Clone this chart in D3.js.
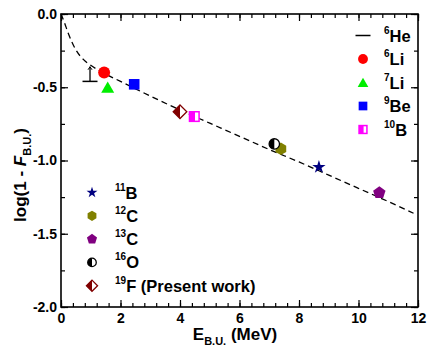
<!DOCTYPE html>
<html>
<head>
<meta charset="utf-8">
<script src="https://cdn.jsdelivr.net/npm/d3@7"></script>
<style>
  body { margin: 0; background: #fff; }
  svg { display: block; font-family: "Liberation Sans", Arial, sans-serif; font-weight: bold; }
</style>
</head>
<body>
<div id="chart"></div>
<script>
// data
const massNumbers = ["6", "6", "7", "9", "10", "11", "12", "13", "16", "19"];
const elements = ["He", "Li", "Li", "Be", "B", "B", "C", "C", "O", "F (Present work)"];
const energy = [0.975, 1.45, 1.57, 2.46, 4.48, 8.67, 7.39, 10.7, 7.17, 4.0];
const logValue = [-0.46, -0.40, -0.50, -0.48, -0.70, -1.045, -0.92, -1.22, -0.887, -0.667];
const markerKind = ["dash", "circle", "triangle", "square", "halfSquare", "star", "hexagon", "pentagon", "halfCircle", "halfDiamond"];
const markerColor = ["#000000", "#ff0000", "#00ee00", "#0000ff", "#ff00ff", "#000080", "#808000", "#800080", "#000000", "#800000"];
const heErrorTop = -0.36;

// dashed systematics curve
const fitEnergy = [0.0, 0.1, 0.25, 0.5, 0.75, 1.0, 1.5, 2.0, 3.0, 4.0, 5.0, 6.0, 7.0, 8.0, 9.0, 10.0, 11.0, 11.85];
const fitLog = [0.0, -0.05, -0.135, -0.245, -0.31, -0.35, -0.41, -0.46, -0.56, -0.655, -0.745, -0.835, -0.925, -1.01, -1.10, -1.19, -1.28, -1.36];

const xTicks = [0, 2, 4, 6, 8, 10, 12];
const yTicks = [0, -0.5, -1.0, -1.5, -2.0];
const xMinor = d3.range(0, 12.001, 0.4);
const yMinor = d3.range(-2, 0.001, 0.25);

const legendTop = [0, 1, 2, 3, 4];
const legendBottom = [5, 6, 7, 8, 9];

const width = 435, height = 358;
const margin = { top: 14, right: 17, bottom: 51, left: 61 };

const svg = d3.select("#chart").append("svg")
  .attr("width", width)
  .attr("height", height);

const x = d3.scaleLinear().domain([0, 12]).range([margin.left, width - margin.right]);
const y = d3.scaleLinear().domain([-2, 0]).range([height - margin.bottom, margin.top]);

// axes, ticks pointing inward on all four sides
function styleAxis(g) {
  g.select(".domain").remove();
  g.selectAll("line").attr("stroke", "#000").attr("stroke-width", 1.2);
  g.selectAll("text").attr("fill", "#000").style("font-size", "14px").style("font-weight", "bold");
}

svg.append("g")
  .attr("transform", `translate(0,${y(-2)})`)
  .call(d3.axisBottom(x).tickValues(xMinor).tickSize(-4).tickFormat(""))
  .call(styleAxis);
svg.append("g")
  .attr("transform", `translate(0,${y(-2)})`)
  .call(d3.axisBottom(x).tickValues(xTicks).tickSize(-7).tickPadding(6).tickFormat(d3.format("d")))
  .call(styleAxis);
svg.append("g")
  .attr("transform", `translate(0,${y(0)})`)
  .call(d3.axisTop(x).tickValues(xMinor).tickSize(-4).tickFormat(""))
  .call(styleAxis);
svg.append("g")
  .attr("transform", `translate(0,${y(0)})`)
  .call(d3.axisTop(x).tickValues(xTicks).tickSize(-7).tickFormat(""))
  .call(styleAxis);

svg.append("g")
  .attr("transform", `translate(${x(0)},0)`)
  .call(d3.axisLeft(y).tickValues(yMinor).tickSize(-4).tickFormat(""))
  .call(styleAxis);
svg.append("g")
  .attr("transform", `translate(${x(0)},0)`)
  .call(d3.axisLeft(y).tickValues(yTicks).tickSize(-7).tickPadding(4).tickFormat((d) => d.toFixed(1)))
  .call(styleAxis);
svg.append("g")
  .attr("transform", `translate(${x(12)},0)`)
  .call(d3.axisRight(y).tickValues(yMinor).tickSize(-4).tickFormat(""))
  .call(styleAxis);
svg.append("g")
  .attr("transform", `translate(${x(12)},0)`)
  .call(d3.axisRight(y).tickValues(yTicks).tickSize(-7).tickFormat(""))
  .call(styleAxis);

// frame
svg.append("rect")
  .attr("x", x(0))
  .attr("y", y(0))
  .attr("width", x(12) - x(0))
  .attr("height", y(-2) - y(0))
  .attr("fill", "none")
  .attr("stroke", "#000")
  .attr("stroke-width", 1.6);

// dashed curve
const fitData = fitEnergy.map((e, i) => [e, fitLog[i]]);
svg.append("path")
  .datum(fitData)
  .attr("fill", "none")
  .attr("stroke", "#000")
  .attr("stroke-width", 1.3)
  .attr("stroke-dasharray", "6,4")
  .attr("d", d3.line().x((d) => x(d[0])).y((d) => y(d[1])).curve(d3.curveMonotoneX));

// markers
function drawMarker(g, kind, color, s) {
  if (kind === "dash") {
    g.append("line").attr("x1", -7.5).attr("x2", 7.5)
      .attr("stroke", color).attr("stroke-width", 1.5);
  } else if (kind === "circle") {
    g.append("circle").attr("r", 6 * s).attr("fill", color);
  } else if (kind === "triangle") {
    const a = 6.5 * s;
    g.append("polygon").attr("points", `${-a},${a * 0.85} ${a},${a * 0.85} 0,${-a * 0.9}`).attr("fill", color);
  } else if (kind === "square") {
    const a = 5.3 * s;
    g.append("rect").attr("x", -a).attr("y", -a).attr("width", 2 * a).attr("height", 2 * a).attr("fill", color);
  } else if (kind === "halfSquare") {
    const a = 4.8 * s;
    g.append("rect").attr("x", -a).attr("y", -a).attr("width", 2 * a).attr("height", 2 * a)
      .attr("fill", "#fff").attr("stroke", color).attr("stroke-width", 1.5);
    g.append("rect").attr("x", -a).attr("y", -a).attr("width", a * 1.15).attr("height", 2 * a).attr("fill", color);
  } else if (kind === "star") {
    g.append("path").attr("d", d3.symbol(d3.symbolStar, 55 * s * s)()).attr("fill", color);
  } else if (kind === "hexagon") {
    const r = 6.2 * s;
    const pts = d3.range(6).map((k) => [r * Math.sin(k * Math.PI / 3), r * Math.cos(k * Math.PI / 3)]);
    g.append("polygon").attr("points", pts.map((p) => p.join(",")).join(" ")).attr("fill", color);
  } else if (kind === "pentagon") {
    const r = 6.5 * s;
    const pts = d3.range(5).map((k) => [r * Math.sin(k * 2 * Math.PI / 5), -r * Math.cos(k * 2 * Math.PI / 5)]);
    g.append("polygon").attr("points", pts.map((p) => p.join(",")).join(" ")).attr("fill", color);
  } else if (kind === "halfCircle") {
    const r = 5.2 * s;
    g.append("circle").attr("r", r).attr("fill", "#fff").attr("stroke", color).attr("stroke-width", 1.3);
    g.append("path").attr("d", `M0,${-r} A${r},${r} 0 0 0 0,${r} Z`).attr("fill", color);
  } else if (kind === "halfDiamond") {
    const r = 6.8 * s;
    g.append("polygon").attr("points", `0,${-r} ${r},0 0,${r} ${-r},0`)
      .attr("fill", "#fff").attr("stroke", color).attr("stroke-width", 1.3);
    g.append("polygon").attr("points", `0,${-r} 0,${r} ${-r},0`).attr("fill", color);
  }
}

// 6He error bar (upward)
const heX = x(energy[0]);
svg.append("line")
  .attr("x1", heX).attr("x2", heX)
  .attr("y1", y(logValue[0])).attr("y2", y(heErrorTop))
  .attr("stroke", "#000").attr("stroke-width", 1.3);
svg.append("path")
  .attr("d", `M${heX - 2},${y(heErrorTop) + 3} L${heX},${y(heErrorTop)} L${heX + 2},${y(heErrorTop) + 3}`)
  .attr("fill", "none").attr("stroke", "#000").attr("stroke-width", 1);

energy.forEach((e, i) => {
  const g = svg.append("g").attr("transform", `translate(${x(e)},${y(logValue[i])})`);
  drawMarker(g, markerKind[i], markerColor[i], 1);
});

// legends
function drawLegend(indices, symX, textX, y0, step) {
  indices.forEach((idx, k) => {
    const cy = y0 + k * step;
    const g = svg.append("g").attr("transform", `translate(${symX},${cy})`);
    drawMarker(g, markerKind[idx], markerColor[idx], 0.82);
    const t = svg.append("text")
      .attr("x", textX)
      .attr("y", cy + 6)
      .attr("fill", "#000")
      .style("font-size", "16.5px");
    t.append("tspan").text(massNumbers[idx]).style("font-size", "10px").attr("dy", -8);
    t.append("tspan").text(elements[idx]).attr("dy", 8);
  });
}
drawLegend(legendTop, 363, 384, 35.5, 23.5);
drawLegend(legendBottom, 92, 115, 192.5, 23.3);

// axis titles
const yTitle = svg.append("text")
  .attr("transform", `translate(26,175) rotate(-90)`)
  .attr("text-anchor", "middle")
  .attr("fill", "#000")
  .style("font-size", "17px");
yTitle.append("tspan").text("log(1 - ");
yTitle.append("tspan").text("F").style("font-style", "italic");
yTitle.append("tspan").text("B.U.").style("font-size", "11px").attr("dy", 5);
yTitle.append("tspan").text(")").attr("dy", -5);

const xTitle = svg.append("text")
  .attr("x", 235)
  .attr("y", 340)
  .attr("text-anchor", "middle")
  .attr("fill", "#000")
  .style("font-size", "17px");
xTitle.append("tspan").text("E");
xTitle.append("tspan").text("B.U.").style("font-size", "11px").attr("dy", 5);
xTitle.append("tspan").text(" (MeV)").attr("dy", -5);
</script>
</body>
</html>
